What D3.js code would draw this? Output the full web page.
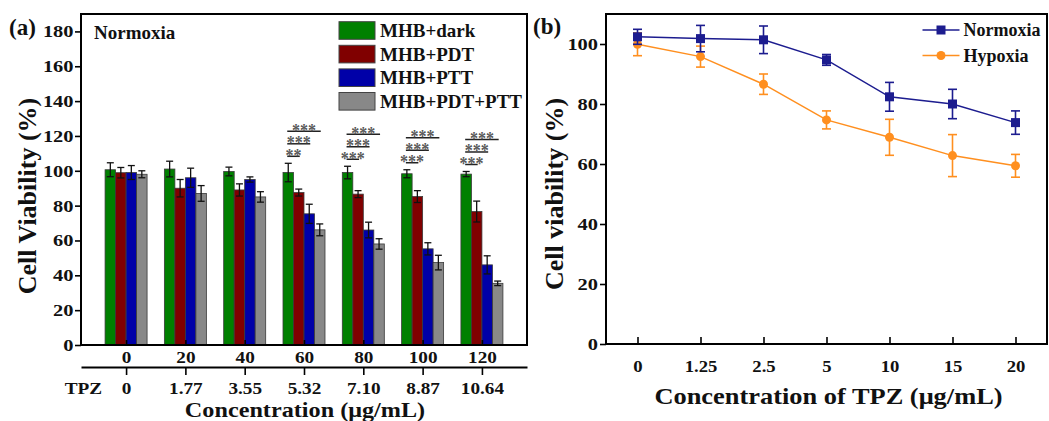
<!DOCTYPE html>
<html><head><meta charset="utf-8">
<script src="https://cdn.jsdelivr.net/npm/d3@7"></script>
<style>
html,body{margin:0;padding:0;background:#fff;}
svg text{font-family:"Liberation Serif","Times New Roman",serif;font-weight:bold;}
</style></head>
<body><svg id="c" width="1049" height="421"></svg>
<script>
// ---------- data: panel (a) ----------
const groupsA = ["0","20","40","60","80","100","120"];
const tpzA = ["0","1.77","3.55","5.32","7.10","8.87","10.64"];
const seriesA = ["MHB+dark","MHB+PDT","MHB+PTT","MHB+PDT+PTT"];
const colorsA = ["#008000","#800000","#0000a8","#888888"];
const darkVals = [100.6, 101, 99.6, 99, 99, 98.3, 98.1];
const darkErr  = [4, 4.5, 2.5, 5.3, 3.6, 2.3, 1.5];
const pdtVals  = [98.9, 90, 89, 87.5, 86.6, 85.2, 76.6];
const pdtErr   = [3, 5, 3.5, 2, 2, 3.4, 6];
const pttVals  = [99, 96, 95, 75.3, 66, 55.2, 46];
const pttErr   = [4, 5.5, 1.5, 5.5, 4.5, 3.5, 5.2];
const comboVals= [98, 87, 85, 66.1, 58, 47.3, 35.4];
const comboErr = [2, 4.5, 3, 3.4, 3, 4.2, 1.3];
const yTicksA = [0,20,40,60,80,100,120,140,160,180];
// significance: [vs PDT, vs PTT, vs PDT+PTT] per group
const sigA = [null, null, null, ["**","***","***"], ["***","***","***"], ["***","***","***"], ["***","***","***"]];

// ---------- data: panel (b) ----------
const tpzB = ["0","1.25","2.5","5","10","15","20"];
const normVals = [102.4, 101.8, 101.4, 94.7, 82.4, 80, 73.8];
const normErr  = [2.5, 4.4, 4.6, 1.8, 4.8, 4.9, 3.9];
const hypoVals = [99.9, 95.8, 86.6, 74.7, 68.9, 62.8, 59.4];
const hypoErr  = [3.8, 3.5, 3.4, 3, 6, 7, 3.8];
const yTicksB = [0,20,40,60,80,100];
const namesB = ["Normoxia","Hypoxia"];
const colorsB = ["#1c1c8f","#ff8f1f"];

const svg = d3.select("#c");
function stretch(sel, s){
  sel.each(function(){ const w=this.getComputedTextLength(); this.setAttribute("textLength", w*s); this.setAttribute("lengthAdjust","spacingAndGlyphs"); });
}

// ================= Panel (a) =================
const A = {l:81, t:14, r:527, b:345};
const xA = d3.scaleLinear().domain([-0.76, 6.76]).range([A.l, A.r]);
const yA = d3.scaleLinear().domain([0, 190]).range([A.b, A.t]);
const bw = 10.5;
const valsA = [darkVals, pdtVals, pttVals, comboVals];
const errsA = [darkErr, pdtErr, pttErr, comboErr];
const gA = svg.append("g");

// bars
valsA.forEach((vals, s) => {
  gA.append("g").selectAll("rect").data(vals).join("rect")
    .attr("x", (d,i) => xA(i) + (s-2)*bw)
    .attr("y", d => yA(d))
    .attr("width", bw)
    .attr("height", d => yA(0) - yA(d))
    .attr("fill", colorsA[s]).attr("stroke", "#3a3a3a").attr("stroke-width", 0.8);
});
// error bars
valsA.forEach((vals, s) => {
  const g = gA.append("g").attr("stroke", "#111").attr("stroke-width", 1.3);
  vals.forEach((v, i) => {
    const cx = xA(i) + (s-1.5)*bw, e = errsA[s][i];
    g.append("line").attr("x1", cx).attr("x2", cx).attr("y1", yA(v-e)).attr("y2", yA(v+e));
    g.append("line").attr("x1", cx-3.5).attr("x2", cx+3.5).attr("y1", yA(v-e)).attr("y2", yA(v-e));
    g.append("line").attr("x1", cx-3.5).attr("x2", cx+3.5).attr("y1", yA(v+e)).attr("y2", yA(v+e));
  });
});
// significance
sigA.forEach((labs, i) => {
  if (!labs) return;
  const base = yA(darkVals[i] + darkErr[i]) - 7;
  const x0 = xA(i) - 1.5*bw - 1;
  labs.forEach((lab, k) => {
    const ly = base - k*12.5;
    const x1 = xA(i) + (k - 0.5)*bw + 1;
    gA.append("line").attr("x1", x0).attr("x2", x1).attr("y1", ly).attr("y2", ly)
      .attr("stroke", "#222").attr("stroke-width", 1.5);
    const t = gA.append("text").attr("x", (x0+x1)/2).attr("y", ly+5.5).attr("text-anchor","middle")
      .attr("font-size", 19).attr("fill", "#5a5a5a").text(lab);
    t.attr("textLength", lab.length*8).attr("lengthAdjust","spacingAndGlyphs");
  });
});

// y axis
const axYA = gA.append("g").attr("transform", `translate(${A.l},0)`)
  .call(d3.axisLeft(yA).tickValues(yTicksA).tickSize(6).tickPadding(1.5));
axYA.select(".domain").remove();
axYA.selectAll("line").attr("stroke","#000").attr("stroke-width",1.6);
axYA.selectAll("text").attr("font-size",17).attr("fill","#111");
// x axis (inner ticks + labels)
const axXA = gA.append("g").attr("transform", `translate(0,${A.b})`)
  .call(d3.axisBottom(xA).tickValues(d3.range(7)).tickSize(-5).tickSizeOuter(0).tickPadding(6.5).tickFormat(i => groupsA[i]));
axXA.select(".domain").remove();
axXA.selectAll("line").attr("stroke","#000").attr("stroke-width",1.6);
axXA.selectAll("text").attr("font-size",16).attr("fill","#111");
// second axis (TPZ)
const axXA2 = gA.append("g").attr("transform", `translate(0,367)`)
  .call(d3.axisBottom(xA).tickValues(d3.range(7)).tickSize(8).tickSizeOuter(0).tickPadding(7.8).tickFormat(i => tpzA[i]));
axXA2.select(".domain").attr("stroke","#000").attr("stroke-width",2);
axXA2.selectAll("line").attr("stroke","#000").attr("stroke-width",1.6);
axXA2.selectAll("text").attr("font-size",16).attr("fill","#111");
gA.append("text").attr("x", 102).attr("y", 394).attr("text-anchor","end").attr("font-size",16).attr("fill","#111").text("TPZ").attr("class","st12");
// frame
gA.append("rect").attr("x",A.l).attr("y",A.t).attr("width",A.r-A.l).attr("height",A.b-A.t)
  .attr("fill","none").attr("stroke","#000").attr("stroke-width",2);
// legend
seriesA.forEach((name, s) => {
  const cy = 30.5 + s*23.6;
  gA.append("rect").attr("x",339).attr("y",cy-8.8).attr("width",36).attr("height",17.6)
    .attr("fill",colorsA[s]).attr("stroke","#444").attr("stroke-width",1);
  gA.append("text").attr("x",380).attr("y",cy+6.5).attr("font-size",19).attr("fill","#111").text(name);
});
gA.append("text").attr("x",94).attr("y",39).attr("font-size",19).attr("fill","#111").text("Normoxia");
// titles
gA.append("text").attr("transform","translate(36,196) rotate(-90)").attr("text-anchor","middle")
  .attr("font-size",26).attr("fill","#111").text("Cell Viability (%)");
const tA = gA.append("text").attr("x",305).attr("y",417).attr("text-anchor","middle")
  .attr("font-size",22).attr("fill","#111").text("Concentration (μg/mL)");
svg.append("text").attr("x",9).attr("y",35).attr("font-size",23).attr("fill","#111").text("(a)");

stretch(axYA.selectAll("text"), 1.2);
stretch(axXA.selectAll("text"), 1.2);
stretch(axXA2.selectAll("text"), 1.2);
stretch(gA.selectAll("text.st12"), 1.2);
stretch(tA, 1.1);

// ================= Panel (b) =================
const B = {l:606, t:14, r:1047, b:344};
const xB = d3.scaleLinear().domain([-0.5, 6.5]).range([B.l, B.r]);
const yB = d3.scaleLinear().domain([0, 110]).range([B.b, B.t]);
const gB = svg.append("g");
const valsB = [normVals, hypoVals], errsB = [normErr, hypoErr];

// draw hypoxia first then normoxia on top
[1,0].forEach(s => {
  const vals = valsB[s], errs = errsB[s], col = colorsB[s];
  gB.append("path").datum(vals)
    .attr("d", d3.line().x((d,i)=>xB(i)).y(d=>yB(d)))
    .attr("fill","none").attr("stroke",col).attr("stroke-width",1.5);
  const g = gB.append("g").attr("stroke",col).attr("stroke-width",1.6);
  vals.forEach((v,i) => {
    const cx = xB(i), e = errs[i];
    g.append("line").attr("x1",cx).attr("x2",cx).attr("y1",yB(v-e)).attr("y2",yB(v+e));
    g.append("line").attr("x1",cx-4.5).attr("x2",cx+4.5).attr("y1",yB(v-e)).attr("y2",yB(v-e));
    g.append("line").attr("x1",cx-4.5).attr("x2",cx+4.5).attr("y1",yB(v+e)).attr("y2",yB(v+e));
  });
  if (s === 0) {
    gB.append("g").selectAll("rect").data(vals).join("rect")
      .attr("x",(d,i)=>xB(i)-4.5).attr("y",d=>yB(d)-4.5).attr("width",9).attr("height",9).attr("fill",col);
  } else {
    gB.append("g").selectAll("circle").data(vals).join("circle")
      .attr("cx",(d,i)=>xB(i)).attr("cy",d=>yB(d)).attr("r",4.5).attr("fill",col);
  }
});

const axYB = gB.append("g").attr("transform",`translate(${B.l},0)`)
  .call(d3.axisLeft(yB).tickValues(yTicksB).tickSize(6).tickPadding(2));
axYB.select(".domain").remove();
axYB.selectAll("line").attr("stroke","#000").attr("stroke-width",1.6);
axYB.selectAll("text").attr("font-size",17).attr("fill","#111");
const axXB = gB.append("g").attr("transform",`translate(0,${B.b})`)
  .call(d3.axisBottom(xB).tickValues(d3.range(7)).tickSize(-7).tickSizeOuter(0).tickPadding(16).tickFormat(i=>tpzB[i]));
axXB.select(".domain").remove();
axXB.selectAll("line").attr("stroke","#000").attr("stroke-width",1.6);
axXB.selectAll("text").attr("font-size",17).attr("fill","#111");
gB.append("rect").attr("x",B.l).attr("y",B.t).attr("width",B.r-B.l).attr("height",B.b-B.t)
  .attr("fill","none").attr("stroke","#000").attr("stroke-width",2);
// legend
namesB.forEach((name, s) => {
  const cy = 30 + s*25.5;
  gB.append("line").attr("x1",922.5).attr("x2",959.5).attr("y1",cy).attr("y2",cy).attr("stroke",colorsB[s]).attr("stroke-width",1.5);
  if (s===0) gB.append("rect").attr("x",941-4.5).attr("y",cy-4.5).attr("width",9).attr("height",9).attr("fill",colorsB[s]);
  else gB.append("circle").attr("cx",941).attr("cy",cy).attr("r",4.5).attr("fill",colorsB[s]);
  gB.append("text").attr("x",963.5).attr("y",cy+6).attr("font-size",18).attr("fill","#111").text(name);
});
gB.append("text").attr("transform","translate(563,194) rotate(-90)").attr("text-anchor","middle")
  .attr("font-size",26).attr("fill","#111").text("Cell viability (%)");
const tB = gB.append("text").attr("x",828.5).attr("y",404).attr("text-anchor","middle")
  .attr("font-size",24).attr("fill","#111").text("Concentration of TPZ (μg/mL)");
svg.append("text").attr("x",533).attr("y",34).attr("font-size",23).attr("fill","#111").text("(b)");

stretch(axYB.selectAll("text"), 1.2);
stretch(axXB.selectAll("text"), 1.1);
stretch(tB, 1.1);
</script></body></html>
